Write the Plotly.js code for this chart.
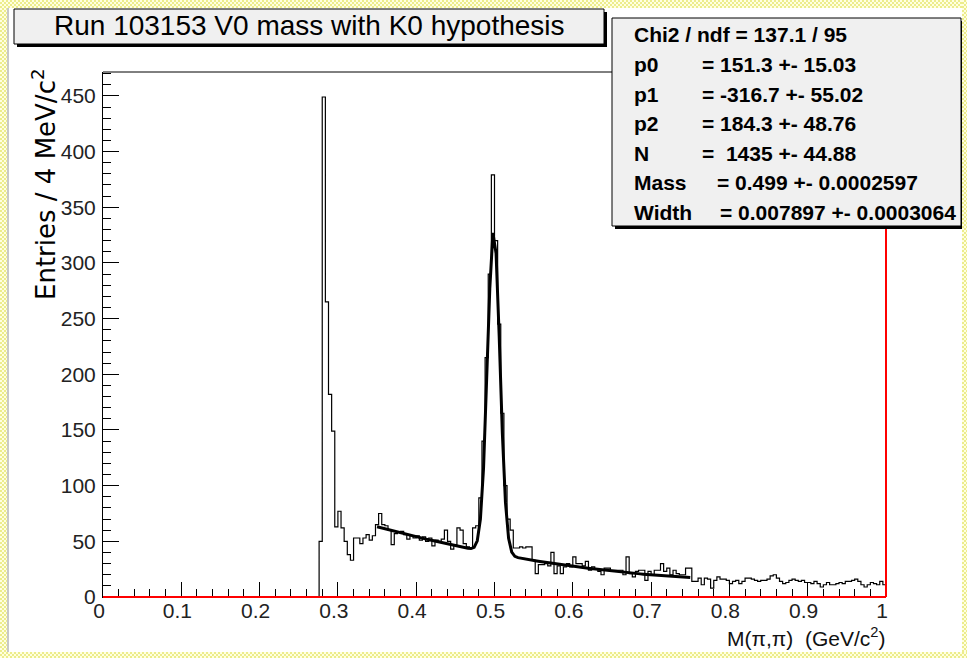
<!DOCTYPE html>
<html>
<head>
<meta charset="utf-8">
<script src="https://cdn.plot.ly/plotly-3.0.1.min.js"></script>
<style>
  html, body { margin:0; padding:0; background:#ffffff; overflow:hidden; }
  #wrap { position:relative; width:967px; height:658px; }
  #plot { position:absolute; left:0; top:0; width:967px; height:658px; }
  .chk { position:absolute; pointer-events:none;
         background: repeating-conic-gradient(#ecec8c 0% 25%, #ffffe0 0% 50%) 0 0 / 4px 4px; }
  .gry { position:absolute; pointer-events:none; background:#c8c8c8; }
</style>
</head>
<body>
<div id="wrap">
  <div id="plot"></div>
  <div class="chk" style="left:0;top:0;width:967px;height:8px;"></div>
  <div class="chk" style="left:0;top:0;width:7px;height:658px;"></div>
  <div class="chk" style="left:962px;top:0;width:5px;height:658px;"></div>
  <div class="chk" style="left:0;top:652px;width:967px;height:6px;"></div>
  <div class="gry" style="left:7px;top:8px;width:2px;height:644px;"></div>
</div>
<script>
// ---------------- DATA ----------------
const xMin = 0.0;
const binWidth = 0.004;           // 4 MeV bins
const nBins = 250;
const firstFilledBin = 69;        // bins before this are empty
const binCounts = [
  50, 449, 265, 182, 149, 63, 77, 62, 50, 38,
  33, 53, 53, 48, 53, 56, 51, 55, 65, 75,
  65, 64, 60, 47, 57, 58, 59, 56, 52, 55,
  53, 55, 51, 54, 50, 53, 46, 51, 50, 52,
  60, 50, 43, 47, 62, 60, 48, 45, 44, 62,
  64, 89, 140, 215, 290, 379, 320, 245, 165, 100,
  70, 60, 44, 44, 45, 44, 45, 45, 33, 21,
  29, 29, 30, 28, 40, 21, 28, 21, 27, 30,
  27, 36, 30, 30, 28, 32, 24, 27, 25, 23,
  20, 26, 26, 24, 24, 24, 24, 20, 36, 21,
  18, 23, 24, 24, 15, 23, 20, 24, 24, 30,
  23, 26, 20, 24, 21, 20, 20, 26, 26, 14,
  14, 17, 11, 17, 16, 8, 15, 18, 16, 16,
  15, 12, 14, 15, 12, 14, 17, 17, 16, 15,
  14, 15, 15, 16, 19, 20, 17, 14, 12, 13,
  15, 16, 15, 14, 15, 13, 13, 12, 14, 12,
  9, 11, 13, 11, 11, 12, 13, 12, 14, 14,
  15, 16, 14, 11, 9, 11, 13, 12, 11, 14,
  11
];

// fit result (pol2 + gaus), as printed in the stats box
const fitRange = [0.35, 0.75];
const fitNpx = 100;
const p0 = 151.3, p1 = -316.7, p2 = 184.3;
const fitN = 1435, fitMass = 0.499, fitWidth = 0.007897;

const statLabels = ['Chi2 / ndf = 137.1 / 95', 'p0', 'p1', 'p2', 'N', 'Mass', 'Width'];
const statValues = ['', '= 151.3 +- 15.03', '= -316.7 +- 55.02', '= 184.3 +- 48.76',
                    '=\u00A0 1435 +- 44.88', '= 0.499 +- 0.0002597', '= 0.007897 +- 0.0003064'];

const titleText = 'Run 103153 V0 mass with K0 hypothesis';
const xTitleText = 'M(\u03C0,\u03C0)\u00A0 (GeV/c<sup>2</sup>)';
const yTitleText = 'Entries / 4 MeV/c<sup>2</sup>';

// ---------------- BUILD ----------------
const counts = new Array(nBins).fill(0);
for (let i = 0; i < binCounts.length; i++) counts[firstFilledBin + i] = binCounts[i];
const histX = [], histY = [];
for (let i = 0; i <= nBins; i++) {
  histX.push(xMin + i * binWidth);
  histY.push(i < nBins ? counts[i] : counts[nBins - 1]);
}
const gausAmp = fitN * binWidth / (Math.sqrt(2 * Math.PI) * fitWidth);
const fitX = [], fitY = [];
for (let i = 0; i <= fitNpx; i++) {
  const x = fitRange[0] + (fitRange[1] - fitRange[0]) * i / fitNpx;
  const g = gausAmp * Math.exp(-0.5 * Math.pow((x - fitMass) / fitWidth, 2));
  fitX.push(x); fitY.push(p0 + p1 * x + p2 * x * x + g);
}
const yMax = Math.max(...counts) * 1.05;

// pixel helpers for decorations (frame: left 103, right 886, top 72, bottom 597)
const L = 103, R = 886, T = 72, B = 597;
const px = v => (v - L) / (R - L);
const py = v => (B - v) / (B - T);

const tickFont = {family: 'Liberation Sans, Arial, sans-serif', size: 21, color: '#222'};

const annotations = [];
annotations.push({
  text: yTitleText, xref: 'paper', yref: 'paper', x: px(44), y: py(302),
  xanchor: 'center', yanchor: 'bottom', textangle: -90, showarrow: false,
  font: {family: 'DejaVu Sans, Verdana, sans-serif', size: 26, color: '#000'}
});
annotations.push({
  text: xTitleText, xref: 'paper', yref: 'paper', x: px(887), y: py(637),
  xanchor: 'right', yanchor: 'middle', showarrow: false,
  font: {family: 'Liberation Sans, Arial, sans-serif', size: 21, color: '#111'}
});
annotations.push({
  text: titleText, xref: 'paper', yref: 'paper', x: px(309), y: py(26),
  xanchor: 'center', yanchor: 'middle', showarrow: false,
  font: {family: 'Liberation Sans, Arial, sans-serif', size: 28, color: '#000'}
});
const statValX = [0, 700, 700, 700, 700, 715, 718];
const statFont = {family: 'Liberation Sans, Arial, sans-serif', size: 21, color: '#000'};
for (let i = 0; i < statLabels.length; i++) {
  const yy = py(35 + 29.5 * i);
  annotations.push({text: '<b>' + statLabels[i] + '</b>', xref: 'paper', yref: 'paper',
    x: px(632), y: yy, xanchor: 'left', yanchor: 'middle', showarrow: false, font: statFont});
  if (statValues[i]) {
    annotations.push({text: '<b>' + statValues[i] + '</b>', xref: 'paper', yref: 'paper',
      x: px(statValX[i]), y: yy, xanchor: 'left', yanchor: 'middle', showarrow: false, font: statFont});
  }
}

const rectPx = (x0, y0, x1, y1, fill, lineColor) => ({
  type: 'rect', xref: 'paper', yref: 'paper', x0: px(x0), x1: px(x1), y0: py(y1), y1: py(y0),
  fillcolor: fill, line: {color: lineColor, width: lineColor ? 1 : 0}, layer: 'above'
});

const traces = [
  {x: histX, y: histY, type: 'scatter', mode: 'lines', line: {shape: 'hv', color: '#000', width: 1.2},
   hoverinfo: 'skip'},
  {x: fitX, y: fitY, type: 'scatter', mode: 'lines', line: {color: '#000', width: 3},
   hoverinfo: 'skip'}
];

const layout = {
  width: 967, height: 658,
  margin: {l: L, r: 967 - R, t: T, b: 658 - B, pad: 0},
  paper_bgcolor: '#ffffff', plot_bgcolor: '#ffffff',
  showlegend: false,
  xaxis: {
    range: [0, 1], tick0: 0, dtick: 0.1, ticks: 'inside', ticklen: 15, tickwidth: 1, tickcolor: '#000',
    minor: {dtick: 0.02, tick0: 0, ticks: 'inside', ticklen: 8, tickwidth: 1, tickcolor: '#000', showgrid: false},
    showline: true, linecolor: '#000', linewidth: 1, mirror: false,
    ticklabelstandoff: -5, ticklabelshift: -4,
    showgrid: false, zeroline: false, tickfont: tickFont, fixedrange: true
  },
  yaxis: {
    range: [0, yMax], tick0: 0, dtick: 50, ticks: 'inside', ticklen: 16, tickwidth: 1, tickcolor: '#000',
    minor: {dtick: 10, tick0: 0, ticks: 'inside', ticklen: 8, tickwidth: 1, tickcolor: '#000', showgrid: false},
    showline: true, linecolor: '#000', linewidth: 1, mirror: false, ticklabelstandoff: 2,
    showgrid: false, zeroline: false, tickfont: tickFont, fixedrange: true
  },
  shapes: [
    {type: 'line', xref: 'paper', yref: 'paper', x0: 0, x1: 1, y0: 1, y1: 1, line: {color: '#000', width: 1}, layer: 'above'},
    {type: 'line', xref: 'paper', yref: 'paper', x0: 0, x1: 1, y0: 0, y1: 0, line: {color: '#ff0000', width: 2}, layer: 'above'},
    {type: 'line', xref: 'paper', yref: 'paper', x0: 1, x1: 1, y0: 0, y1: 1, line: {color: '#ff0000', width: 2}, layer: 'above'},
    rectPx(17, 12, 607, 47, '#000000', null),
    rectPx(14, 9, 604, 44, '#f0f0f0', '#000000'),
    rectPx(615, 21, 964, 229, '#000000', null),
    rectPx(612, 18, 961, 226, '#f0f0f0', '#000000')
  ],
  annotations: annotations
};

Plotly.newPlot('plot', traces, layout, {displayModeBar: false, staticPlot: true});
</script>
</body>
</html>
